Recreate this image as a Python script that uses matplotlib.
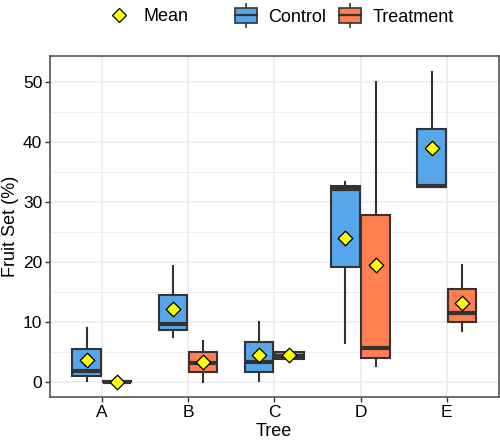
import matplotlib

matplotlib.use("Agg")

import matplotlib.pyplot as plt
import numpy as np
from matplotlib.legend_handler import HandlerBase
from matplotlib.lines import Line2D
from matplotlib.patches import Patch, Rectangle

plt.rcParams["font.family"] = ["Liberation Sans", "DejaVu Sans"]

trees = ["A", "B", "C", "D", "E"]

# box statistics (Fruit Set, %)
ctrl_whislo = [0.05, 7.5, 0.1, 6.5, 32.5]
ctrl_q1 = [0.9, 8.6, 1.6, 19.2, 32.5]
ctrl_med = [1.8, 9.7, 3.3, 32.2, 32.7]
ctrl_q3 = [5.5, 14.5, 6.6, 32.7, 42.2]
ctrl_whishi = [9.0, 19.3, 9.9, 33.3, 51.6]
ctrl_mean = [3.6, 12.2, 4.5, 23.9, 38.9]

trt_whislo = [0.0, 0.0, 3.8, 2.6, 8.5]
trt_q1 = [0.0, 1.6, 3.8, 4.0, 10.0]
trt_med = [0.0, 3.2, 4.3, 5.6, 11.4]
trt_q3 = [0.15, 4.9, 5.0, 27.8, 15.5]
trt_whishi = [0.15, 6.8, 5.0, 50.0, 19.5]
trt_mean = [0.0, 3.3, 4.4, 19.4, 13.1]

CTRL_COLOR = "#56A6E9"
TRT_COLOR = "#FF7F50"
EDGE = "#333333"


def make_stats(lo, q1, med, q3, hi):
    return [
        {"whislo": a, "q1": b, "med": c, "q3": d, "whishi": e, "fliers": []}
        for a, b, c, d, e in zip(lo, q1, med, q3, hi)
    ]


class BoxHandler(HandlerBase):
    def create_artists(self, legend, orig_handle, xdescent, ydescent,
                       width, height, fontsize, trans):
        color = orig_handle.get_facecolor()
        x0, w = width * 0.1, width * 0.8
        box = Rectangle((x0 - xdescent, -ydescent + height * 0.05), w, height * 0.9,
                        facecolor=color, edgecolor=EDGE, lw=1.2, transform=trans)
        mid = -ydescent + height * 0.5
        med = Line2D([x0 - xdescent, x0 + w - xdescent], [mid, mid], color=EDGE, lw=1.6,
                     transform=trans)
        cx = width * 0.5 - xdescent
        w1 = Line2D([cx, cx], [-ydescent - height * 0.2, -ydescent + height * 0.05],
                    color=EDGE, lw=1.2, transform=trans)
        w2 = Line2D([cx, cx], [-ydescent + height * 0.95, -ydescent + height * 1.2],
                    color=EDGE, lw=1.2, transform=trans)
        return [w1, w2, box, med]


fig = plt.figure(figsize=(5.0, 4.44), dpi=100)
ax = fig.add_axes([0.100, 0.105, 0.897, 0.769])

x = np.arange(1, len(trees) + 1)
off, bw = 0.175, 0.33

for stats, pos, color in [
    (make_stats(ctrl_whislo, ctrl_q1, ctrl_med, ctrl_q3, ctrl_whishi), x - off, CTRL_COLOR),
    (make_stats(trt_whislo, trt_q1, trt_med, trt_q3, trt_whishi), x + off, TRT_COLOR),
]:
    ax.bxp(stats, positions=pos, widths=bw, patch_artist=True, showfliers=False,
           showcaps=False, manage_ticks=False,
           boxprops=dict(facecolor=color, edgecolor=EDGE, lw=1.5),
           whiskerprops=dict(color=EDGE, lw=1.5),
           medianprops=dict(color=EDGE, lw=3.0, solid_capstyle="butt"),
           zorder=3)

ax.scatter(x - off, ctrl_mean, marker="D", s=55, facecolor="#FFFF00",
           edgecolor="black", lw=0.9, zorder=5)
ax.scatter(x + off, trt_mean, marker="D", s=55, facecolor="#FFFF00",
           edgecolor="black", lw=0.9, zorder=5)

ax.set_xlim(0.4, 5.6)
ax.set_ylim(-2.6, 54.3)
ax.set_xticks(x)
ax.set_xticklabels(trees)
ax.set_yticks(np.arange(0, 51, 10))
ax.set_yticks(np.arange(5, 50, 10), minor=True)
ax.tick_params(axis="both", which="major", labelsize=12.5, color="#333333",
               length=3.5, width=1.0, labelcolor="black", pad=2)
ax.tick_params(axis="y", which="minor", length=0)
ax.grid(True, which="major", color="#EBEBEB", lw=1.1, zorder=0)
ax.grid(True, which="minor", axis="y", color="#EBEBEB", lw=0.6, zorder=0)
ax.set_axisbelow(True)
for s in ax.spines.values():
    s.set_color("#555555")
    s.set_linewidth(1.2)

ax.set_xlabel("Tree", fontsize=13, labelpad=2)
ax.set_ylabel("Fruit Set (%)", fontsize=13, labelpad=3)

# two legends, as in the reference (mean glyph separate from the fill legend)
mean_handle = Line2D([], [], marker="D", ls="", markersize=7.5,
                     markerfacecolor="#FFFF00", markeredgecolor="black", markeredgewidth=0.9)
fig.legend([mean_handle], ["Mean"], loc="center left",
           bbox_to_anchor=(105.5 / 500, 0.963), frameon=False, fontsize=13,
           handlelength=1.5, handletextpad=0.6, borderpad=0, borderaxespad=0)
fig.legend([Patch(facecolor=CTRL_COLOR), Patch(facecolor=TRT_COLOR)], ["Control", "Treatment"],
           loc="center left", bbox_to_anchor=(232 / 500, 0.963), ncol=2, frameon=False,
           fontsize=13, handler_map={Patch: BoxHandler()}, handlelength=1.55,
           handleheight=1.0, columnspacing=0.55, handletextpad=0.45,
           borderpad=0, borderaxespad=0)

fig.savefig("out.png", dpi=100)
